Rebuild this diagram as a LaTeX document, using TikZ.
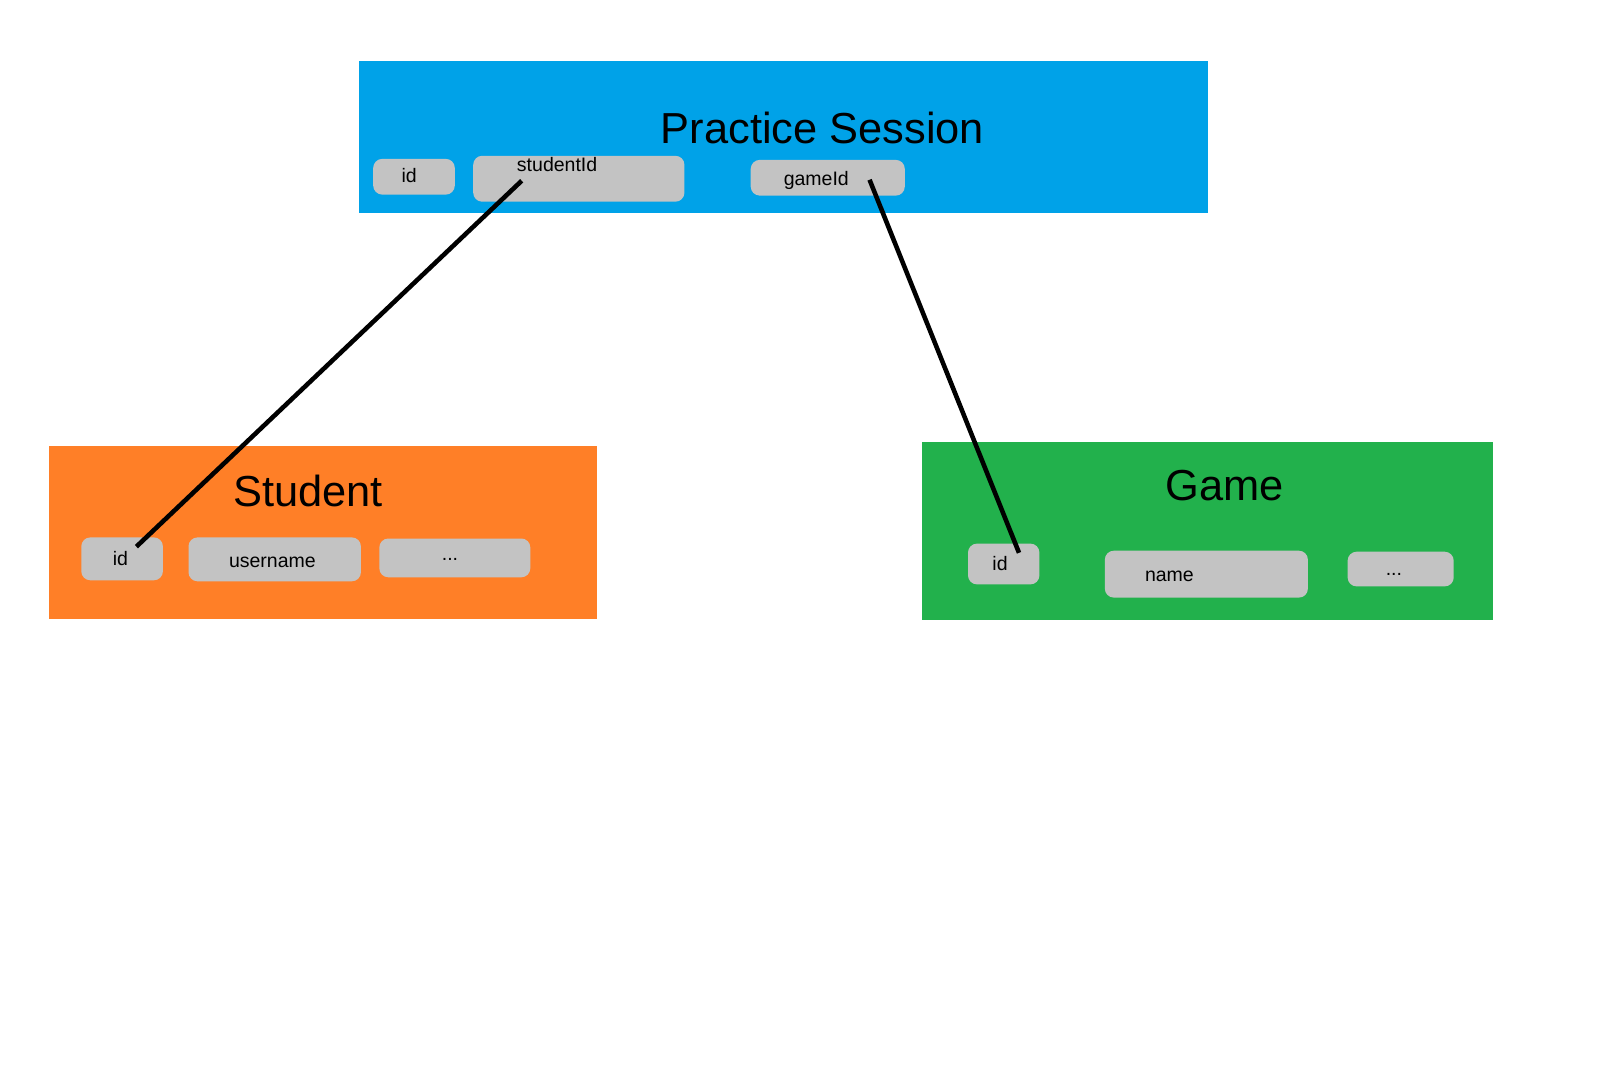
\documentclass[tikz,border=0pt]{standalone}
\usepackage{fontspec}
\setmainfont{Liberation Sans}
\definecolor{sessionblue}{HTML}{00A2E8}
\definecolor{studentorange}{HTML}{FF7F27}
\definecolor{gamegreen}{HTML}{22B14C}
\definecolor{fieldgray}{HTML}{C3C3C3}

\begin{document}
\begin{tikzpicture}[
	entity/.style={rectangle, inner sep=0pt, anchor=north west},
	pill/.style={rectangle, rounded corners=0.9mm, fill=fieldgray, inner sep=0pt, anchor=north west},
	title/.style={anchor=base, inner sep=0pt, font=\fontsize{12.35}{14}\selectfont},
	fieldtext/.style={anchor=base, inner sep=0pt, font=\fontsize{5.55}{6}\selectfont},
	link/.style={line width=1.3pt, black}]
	\useasboundingbox (0,0) rectangle (16,-10.66);
	% Practice Session
	\node[entity, fill=sessionblue, minimum width=8.49cm, minimum height=1.52cm] (session) at (3.582,-0.602) {};
	\node[title] (sessionTitle) at (8.225,-1.439) {Practice Session};
	\node[pill, minimum width=0.816cm, minimum height=0.357cm] (sessionId) at (3.725,-1.582) {};
	\node[fieldtext] (sessionIdText) at (4.092,-1.827) {id};
	\node[pill, minimum width=2.112cm, minimum height=0.459cm] (sessionStudentId) at (4.725,-1.551) {};
	\node[fieldtext] (sessionStudentIdText) at (5.571,-1.714) {studentId};
	\node[pill, minimum width=1.541cm, minimum height=0.357cm] (sessionGameId) at (7.5,-1.592) {};
	\node[fieldtext] (sessionGameIdText) at (8.163,-1.857) {gameId};
	% Student
	\node[entity, fill=studentorange, minimum width=5.48cm, minimum height=1.735cm] (student) at (0.48,-4.449) {};
	\node[title] (studentTitle) at (3.082,-5.061) {Student};
	\node[pill, minimum width=0.816cm, minimum height=0.429cm] (studentId) at (0.806,-5.367) {};
	\node[fieldtext] (studentIdText) at (1.204,-5.653) {id};
	\node[pill, minimum width=1.724cm, minimum height=0.439cm] (studentName) at (1.878,-5.367) {};
	\node[fieldtext] (studentNameText) at (2.724,-5.673) {username};
	\node[pill, minimum width=1.51cm, minimum height=0.388cm] (studentMore) at (3.786,-5.378) {};
	\node[fieldtext] (studentMoreText) at (4.5,-5.602) {...};
	% Game
	\node[entity, fill=gamegreen, minimum width=5.704cm, minimum height=1.786cm] (game) at (9.214,-4.408) {};
	\node[title] (gameTitle) at (12.245,-5.01) {Game};
	\node[pill, minimum width=0.714cm, minimum height=0.408cm] (gameId) at (9.673,-5.429) {};
	\node[fieldtext] (gameIdText) at (10.0,-5.704) {id};
	\node[pill, minimum width=2.031cm, minimum height=0.469cm] (gameName) at (11.041,-5.5) {};
	\node[fieldtext] (gameNameText) at (11.694,-5.816) {name};
	\node[pill, minimum width=1.061cm, minimum height=0.347cm] (gameMore) at (13.469,-5.51) {};
	\node[fieldtext] (gameMoreText) at (13.939,-5.755) {...};
	% links
	\draw[link] ([shift={(-0.571,-0.02)}]sessionStudentId.center) -- ([shift={(0.143,0.122)}]studentId.center);
	\draw[link] ([shift={(0.418,-0.02)}]sessionGameId.center) -- ([shift={(0.153,0.112)}]gameId.center);
\end{tikzpicture}
\end{document}
